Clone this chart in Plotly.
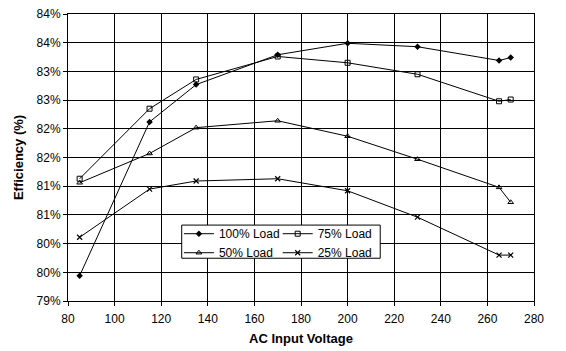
import plotly.graph_objects as go

voltage = [85, 115, 135, 170, 200, 230, 265, 270]
load100 = [79.44, 82.12, 82.77, 83.29, 83.49, 83.43, 83.19, 83.24]
load75 = [81.13, 82.35, 82.86, 83.26, 83.15, 82.95, 82.48, 82.51]
load50 = [81.06, 81.57, 82.02, 82.14, 81.87, 81.47, 80.98, 80.72]
load25 = [80.11, 80.95, 81.09, 81.13, 80.92, 80.46, 79.80, 79.80]

y_tickvals = [79, 79.5, 80, 80.5, 81, 81.5, 82, 82.5, 83, 83.5, 84]
y_ticktext = ['79%', '80%', '80%', '81%', '81%', '82%', '82%', '83%', '83%', '84%', '84%']
x_tickvals = [80, 100, 120, 140, 160, 180, 200, 220, 240, 260, 280]

FONT = "Liberation Sans, Arial, sans-serif"

fig = go.Figure()
series = [
    ("100% Load", load100, dict(symbol="diamond", size=5, color="black"), "legend"),
    ("75% Load", load75, dict(symbol="square-open", size=5, color="black", line=dict(width=1, color="black")), "legend2"),
    ("50% Load", load50, dict(symbol="triangle-up-open", size=5, color="black", line=dict(width=1, color="black")), "legend"),
    ("25% Load", load25, dict(symbol="x-thin-open", size=5, color="black", line=dict(width=1.2, color="black")), "legend2"),
]
for name, vals, mk, lg in series:
    fig.add_trace(go.Scatter(
        x=voltage, y=vals, name=name, mode="lines+markers",
        line=dict(color="black", width=1), marker=mk, legend=lg,
    ))

legend_common = dict(
    bgcolor="rgba(0,0,0,0)", borderwidth=0, font=dict(family=FONT, size=12, color="black"),
    xanchor="left", yanchor="top", tracegroupgap=0, itemwidth=30,
)
fig.update_layout(
    width=566, height=351,
    margin=dict(l=68, r=32, t=14, b=50),
    paper_bgcolor="white", plot_bgcolor="white",
    font=dict(family=FONT, size=12, color="black"),
    showlegend=True,
    legend=dict(x=0.238, y=0.285, **legend_common),
    legend2=dict(x=0.450, y=0.285, **legend_common),
    shapes=[dict(type="rect", xref="paper", yref="paper",
                 x0=0.244, x1=0.670, y0=0.149, y1=0.2645,
                 fillcolor="white", line=dict(color="black", width=1), layer="above")],
    xaxis=dict(
        range=[80, 280], tickvals=x_tickvals, showgrid=True, gridcolor="black", gridwidth=1,
        showline=True, linecolor="black", linewidth=1, mirror=True, automargin=False,
        ticks="outside", ticklen=4, tickcolor="black", zeroline=False,
        tickfont=dict(family=FONT, size=12), ticklabelstandoff=3,
        title=dict(text="<b>AC Input Voltage</b>", font=dict(family=FONT, size=13), standoff=8),
    ),
    yaxis=dict(
        range=[79, 84], tickvals=y_tickvals, ticktext=y_ticktext, showgrid=True,
        gridcolor="black", gridwidth=1, automargin=False,
        showline=True, linecolor="black", linewidth=1, mirror=True,
        ticks="outside", ticklen=4, tickcolor="black", zeroline=False,
        tickfont=dict(family=FONT, size=12),
        title=dict(text="<b>Efficiency (%)</b>", font=dict(family=FONT, size=13), standoff=10),
    ),
)
fig.write_html("out.html")
